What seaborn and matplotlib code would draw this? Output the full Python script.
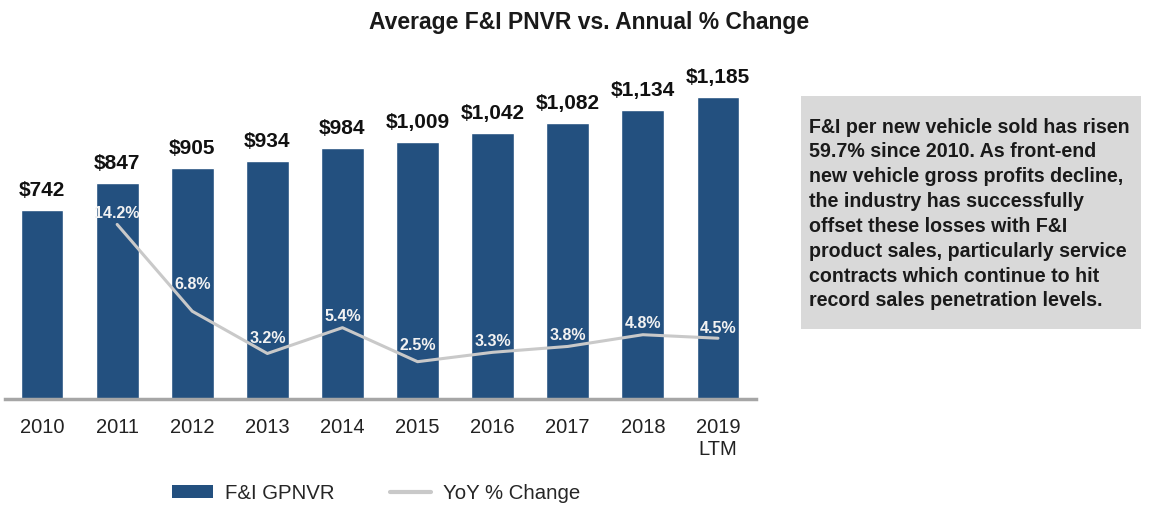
import pandas as pd
import matplotlib.pyplot as plt
import seaborn as sns
from matplotlib.patches import Patch
from matplotlib.lines import Line2D

years = ['2010', '2011', '2012', '2013', '2014', '2015', '2016', '2017', '2018', '2019\nLTM']
pnvr = [742, 847, 905, 934, 984, 1009, 1042, 1082, 1134, 1185]
yoy_years = ['2011', '2012', '2013', '2014', '2015', '2016', '2017', '2018', '2019\nLTM']
yoy_pct = [14.2, 6.8, 3.2, 5.4, 2.5, 3.3, 3.8, 4.8, 4.5]
# extra lift (px) for a few percent labels so they clear the line
label_lift = [12, 28, 16, 12, 17, 12, 12, 12, 11]

BAR_BLUE = '#23507f'
LINE_GRAY = '#c9c9c9'

sns.set_theme(style='white')
plt.rcParams['font.family'] = ['Liberation Sans', 'DejaVu Sans']

df = pd.DataFrame({'year': years, 'pnvr': pnvr})
yoy = pd.DataFrame({'pos': [years.index(y) for y in yoy_years], 'pct': yoy_pct})

fig = plt.figure(figsize=(11.51, 5.06), dpi=100)
ax = fig.add_axes([4.5 / 1151, 1 - 400 / 506, 751 / 1151, 340 / 506])

sns.barplot(data=df, x='year', y='pnvr', color=BAR_BLUE, width=0.57,
            saturation=1, ax=ax)
ax.set_xlim(-0.5, 9.5)
ax.set_ylim(0, 1334)
ax.set_xlabel('')
ax.set_ylabel('')
ax.set_yticks([])
for side in ['left', 'right', 'top']:
    ax.spines[side].set_visible(False)
ax.spines['bottom'].set_color('#a6a6a6')
ax.spines['bottom'].set_linewidth(2.5)
ax.tick_params(axis='x', length=0, pad=13, labelsize=14.5, labelcolor='#222222')

for p, v in zip(ax.patches, pnvr):
    ax.annotate(f'${v:,}', (p.get_x() + p.get_width() / 2, p.get_height()),
                xytext=(0, 8), textcoords='offset points', ha='center', va='bottom',
                fontsize=15, fontweight='bold', color='#111111')

ax2 = ax.twinx()
sns.lineplot(data=yoy, x='pos', y='pct', color=LINE_GRAY, linewidth=2.2, ax=ax2)
ax2.set_ylim(-0.68, 28.3)
ax2.set_yticks([])
ax2.set_ylabel('')
ax2.set_xlabel('')
for side in ['left', 'right', 'top', 'bottom']:
    ax2.spines[side].set_visible(False)
for x, v, lift in zip(yoy['pos'], yoy_pct, label_lift):
    ax2.annotate(f'{v}%', (x, v), xytext=(0, lift * 0.72), textcoords='offset points',
                 ha='center', va='center', fontsize=11.5, fontweight='bold', color='#f2f2f2')

fig.text(589 / 1151, 1 - 23 / 506, 'Average F&I PNVR vs. Annual % Change',
         ha='center', va='center', fontsize=16.5, fontweight='bold',
         family=['Liberation Sans Narrow', 'Liberation Sans', 'DejaVu Sans'], color='#1a1a1a')

box_text = ('F&I per new vehicle sold has risen\n59.7% since 2010. As front-end\n'
            'new vehicle gross profits decline,\nthe industry has successfully\n'
            'offset these losses with F&I\nproduct sales, particularly service\n'
            'contracts which continue to hit\nrecord sales penetration levels.')
fig.patches.append(plt.Rectangle((801 / 1151, 1 - 330 / 506), 340 / 1151, 233 / 506,
                                 transform=fig.transFigure, facecolor='#d9d9d9',
                                 edgecolor='none', zorder=0))
fig.text(809 / 1151, 1 - 214 / 506, box_text, ha='left', va='center', fontsize=14.1,
         fontweight='bold', color='#1a1a1a', linespacing=1.39)

handles = [Patch(facecolor=BAR_BLUE, edgecolor='none'),
           Line2D([], [], color=LINE_GRAY, linewidth=3)]
fig.legend(handles, ['F&I GPNVR', 'YoY % Change'], loc='center',
           bbox_to_anchor=(376 / 1151, 1 - 494 / 506), ncol=2, frameon=False,
           fontsize=14.7, handlelength=2, handleheight=0.6, columnspacing=2.7,
           handletextpad=0.6)

fig.savefig('out.png', dpi=100)
